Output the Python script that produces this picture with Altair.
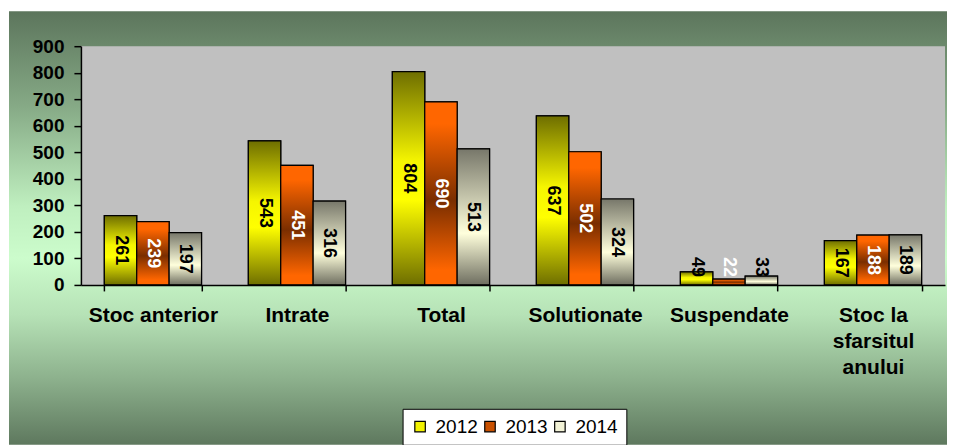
import altair as alt
import pandas as pd

categories = ["Stoc anterior", "Intrate", "Total", "Solutionate", "Suspendate", "Stoc la sfarsitul anului"]
years = ["2012", "2013", "2014"]
v2012 = [261, 543, 804, 637, 49, 167]
v2013 = [239, 451, 690, 502, 22, 188]
v2014 = [197, 316, 513, 324, 33, 189]
y_ticks = [0, 100, 200, 300, 400, 500, 600, 700, 800, 900]

rows = []
for yr, vals in zip(years, [v2012, v2013, v2014]):
    for c, v in zip(categories, vals):
        rows.append({"cat": c, "year": yr, "value": v})
df = pd.DataFrame(rows)

W, H = 865, 239
FONT = "Liberation Sans"


def vgrad(stops):
    return alt.Gradient(
        gradient="linear", x1=0, y1=0, x2=0, y2=1,
        stops=[alt.GradientStop(offset=o, color=c) for o, c in stops],
    )


bg_grad = vgrad([(0, "#5C755C"), (0.22, "#86AA86"), (0.45, "#BFEFBF"), (0.57, "#CCFCCC"),
                 (0.7, "#B6E2B6"), (0.85, "#8CB08C"), (1, "#5E785E")])
g12 = vgrad([(0, "#6E6E00"), (0.42, "#F5F500"), (0.6, "#FFFF00"), (1, "#6E6E00")])
g13 = vgrad([(0, "#FF6600"), (0.12, "#FF6600"), (0.54, "#7A2E00"), (0.92, "#FF6600"), (1, "#FF6600")])
g14 = vgrad([(0, "#77776A"), (0.62, "#FFFFDC"), (1, "#6E6E60")])

one = pd.DataFrame({"a": [0]})

background = alt.Chart(one).mark_rect(fill=bg_grad, strokeWidth=0).encode(
    x=alt.value(-72), x2=alt.value(W + 2), y=alt.value(-35), y2=alt.value(H + 160)
)
plot_bg = alt.Chart(one).mark_rect(fill="#C0C0C0", strokeWidth=0).encode(
    x=alt.value(0), x2=alt.value(W), y=alt.value(0), y2=alt.value(H)
)

x_enc = alt.X(
    "cat:N", sort=categories,
    scale=alt.Scale(paddingInner=0.325, paddingOuter=0.1625),
    axis=alt.Axis(
        title=None, labelAngle=0, labelFont=FONT, labelFontSize=21, labelFontWeight="bold",
        labelColor="black", domainColor="black", domainWidth=1.5, tickColor="black",
        tickWidth=1.5, tickSize=6, tickBand="extent", labelPadding=14, labelLineHeight=26,
        labelLimit=0, grid=False, zindex=1,
        labelExpr="datum.value == 'Stoc la sfarsitul anului' ? ['Stoc la', 'sfarsitul', 'anului'] : datum.label",
    ),
)
xo_enc = alt.XOffset("year:N", sort=years)
y_axis = alt.Axis(
    title=None, values=y_ticks, labelFont=FONT, labelFontSize=19, labelFontWeight="bold",
    labelColor="black", domainColor="black", domainWidth=1.5, tickColor="black",
    tickWidth=1.5, tickSize=7, labelPadding=10, grid=False, zindex=1,
)
y_scale = alt.Scale(domain=[0, 900], nice=False)
y_enc = alt.Y("value:Q", scale=y_scale, axis=y_axis)

bars_legend = alt.Chart(df).mark_bar(stroke="black", strokeWidth=1.2).encode(
    x=x_enc, xOffset=xo_enc, y=y_enc,
    color=alt.Color(
        "year:N",
        scale=alt.Scale(domain=years, range=["#F2F200", "#C85000", "#F2F2D6"]),
        legend=alt.Legend(
            title=None, orient="none", legendX=322, legendY=363, direction="horizontal",
            fillColor="white", strokeColor="black", padding=8, symbolType="square",
            symbolSize=110, symbolStrokeColor="black", symbolStrokeWidth=1.2,
            labelFont=FONT, labelFontSize=19, labelColor="black", labelOffset=6,
            columnPadding=2, zindex=2,
        ),
    ),
)

fill_def = alt.FillValue(
    value=g14,
    condition=[
        {"test": "datum.year === '2012'", "value": g12.to_dict()},
        {"test": "datum.year === '2013'", "value": g13.to_dict()},
    ],
)
bars_grad = alt.Chart(df).mark_bar(stroke="black", strokeWidth=1.2).encode(
    x=x_enc, xOffset=xo_enc, y=y_enc, fill=fill_def
)

labels = alt.Chart(df).transform_calculate(
    mid="datum.value > 100 ? datum.value / 2 : 68"
).mark_text(angle=90, font=FONT, fontSize=18, fontWeight="bold", align="center", baseline="middle").encode(
    x=x_enc, xOffset=xo_enc,
    y=alt.Y("mid:Q", scale=y_scale, axis=y_axis),
    text="value:Q",
    color=alt.condition("datum.year === '2013'", alt.value("white"), alt.value("black")),
)

chart = alt.layer(background, plot_bg, bars_legend, bars_grad, labels).properties(
    width=W, height=H,
    padding={"left": 1, "top": 3, "right": 0, "bottom": 0},
    background="white",
).configure_view(strokeWidth=0)

chart.save("out.html", embed_options={"renderer": "svg", "actions": False})
